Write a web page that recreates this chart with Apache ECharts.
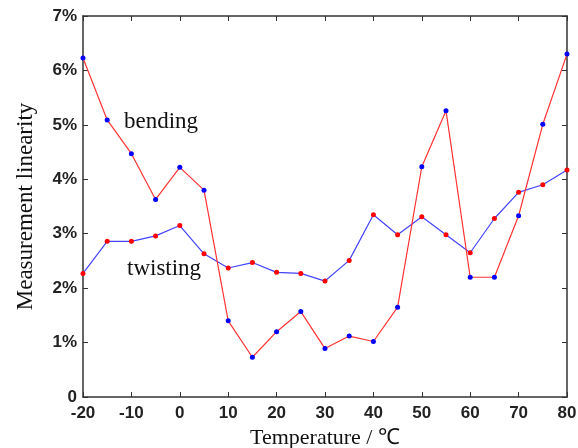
<!DOCTYPE html>
<html><head><meta charset="utf-8">
<script src="https://cdn.jsdelivr.net/npm/echarts@6/dist/echarts.min.js"></script>
<style>html,body{margin:0;padding:0;background:#fff}#c{width:578px;height:448px}</style>
</head><body><div id="c"></div>
<script>
const temperatures = [-20,-15,-10,-5,0,5,10,15,20,25,30,35,40,45,50,55,60,65,70,75,80];
const bending  = [6.23,5.09,4.47,3.63,4.22,3.80,1.40,0.73,1.20,1.57,0.89,1.12,1.02,1.65,4.23,5.26,2.20,2.20,3.33,5.01,6.30];
const twisting = [2.27,2.86,2.86,2.96,3.15,2.63,2.37,2.47,2.29,2.27,2.13,2.51,3.35,2.98,3.31,2.98,2.65,3.28,3.76,3.90,4.17];
const yTicks = ['0','1%','2%','3%','4%','5%','6%','7%'];

const chart = echarts.init(document.getElementById('c'));
const axisLine = {show:true, onZero:false, lineStyle:{color:'#333', width:1.5}};
const tick = {inside:true, length:5, lineStyle:{color:'#333'}};
const tickFont = {fontFamily:'Arial, Liberation Sans', fontSize:17, fontWeight:'bold', color:'#222'};
const serif = 'Times New Roman, Liberation Serif, serif';
chart.setOption({
  animation:false,
  grid:{left:83, right:11, top:16, bottom:51, containLabel:false, outerBoundsMode:'none'},
  xAxis:[
    {type:'value', min:-20, max:80, interval:10, axisLine, splitLine:{show:false}, axisTick:tick,
     axisLabel:Object.assign({margin:8}, tickFont),
     name:'Temperature / ℃', nameLocation:'middle', nameGap:27,
     nameTextStyle:{fontFamily:serif, fontSize:22, color:'#111'}},
    {type:'value', position:'top', min:-20, max:80, interval:10, axisLine, splitLine:{show:false},
     axisTick:tick, axisLabel:{show:false}}
  ],
  yAxis:[
    {type:'value', min:0, max:7, interval:1, axisLine, splitLine:{show:false}, axisTick:tick,
     axisLabel:Object.assign({margin:6, formatter:v=>yTicks[Math.round(v)]}, tickFont),
     name:'Measurement linearity', nameLocation:'middle', nameGap:46,
     nameTextStyle:{fontFamily:serif, fontSize:23, color:'#111'}},
    {type:'value', position:'right', min:0, max:7, interval:1, axisLine, splitLine:{show:false},
     axisTick:tick, axisLabel:{show:false}}
  ],
  series:[
    {name:'bending', type:'line', data:temperatures.map((t,i)=>[t,bending[i]]),
     lineStyle:{color:'#ff3333', width:1.2}, itemStyle:{color:'#0000ff'},
     symbol:'circle', symbolSize:5, showSymbol:true, z:3},
    {name:'twisting', type:'line', data:temperatures.map((t,i)=>[t,twisting[i]]),
     lineStyle:{color:'#4444ff', width:1.2}, itemStyle:{color:'#ff0000'},
     symbol:'circle', symbolSize:5, showSymbol:true, z:2}
  ],
  graphic:[
    {type:'text', left:124, top:110, style:{text:'bending', font:'23px "Times New Roman", "Liberation Serif", serif', fill:'#111'}},
    {type:'text', left:127, top:257, style:{text:'twisting', font:'23px "Times New Roman", "Liberation Serif", serif', fill:'#111'}}
  ]
});
</script></body></html>
